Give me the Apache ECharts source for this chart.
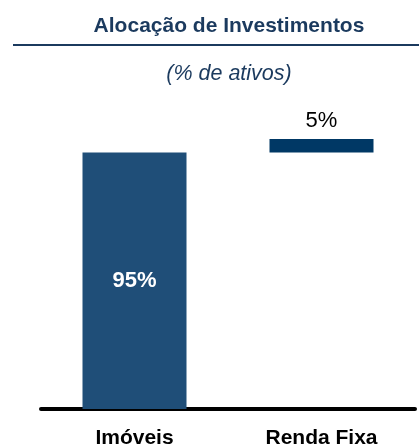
<!DOCTYPE html>
<html>
<head>
<meta charset="utf-8">
<script src="https://cdn.jsdelivr.net/npm/echarts@6/dist/echarts.min.js"></script>
<style>
  html, body { margin: 0; padding: 0; background: #fff; }
  #chart { width: 419px; height: 445px; }
</style>
</head>
<body>
<div id="chart"></div>
<script>
// data
const categories = ["Imóveis", "Renda Fixa"];
const shares = [95, 5];
const barColors = ["#1F4E78", "#003865"];

// waterfall offsets: each bar starts where the previous ones ended
const offsets = shares.map((_, i) => shares.slice(0, i).reduce((a, b) => a + b, 0));

const FONT = "Liberation Sans, Arial, sans-serif";
const NAVY = "#1B3A5E";

const chart = echarts.init(document.getElementById("chart"));
chart.setOption({
  animation: false,
  textStyle: { fontFamily: FONT },
  title: [
    {
      text: "Alocação de Investimentos",
      left: 224, top: 11, textAlign: "center",
      textStyle: { fontFamily: FONT, fontSize: 21, fontWeight: "bold", color: NAVY },
    },
    {
      text: "(% de ativos)",
      left: 224, top: 58, textAlign: "center",
      textStyle: { fontFamily: FONT, fontSize: 21.5, fontStyle: "italic", fontWeight: "normal", color: NAVY },
    },
  ],
  graphic: [
    {
      type: "line",
      shape: { x1: 13, y1: 45, x2: 419, y2: 45 },
      style: { stroke: NAVY, lineWidth: 2 },
    },
  ],
  grid: { left: 41, right: 4, top: 139, bottom: 36, outerBoundsMode: "none", containLabel: false },
  xAxis: {
    type: "category",
    data: categories,
    axisTick: { show: false },
    axisLine: { lineStyle: { color: "#000", width: 4 } },
    axisLabel: {
      margin: 19,
      fontFamily: FONT, fontSize: 21, fontWeight: "bold", color: "#000",
    },
  },
  yAxis: {
    type: "value", min: 0, max: 100,
    show: false,
    splitLine: { show: false },
  },
  series: [
    {
      type: "bar",
      stack: "w",
      data: offsets,
      itemStyle: { color: "transparent" },
      barWidth: 104,
      silent: true,
    },
    {
      type: "bar",
      stack: "w",
      barWidth: 104,
      data: shares.map((v, i) => ({
        value: v,
        itemStyle: { color: barColors[i] },
        label: i === 0
          ? { show: true, position: "inside", color: "#fff", fontWeight: "bold", fontSize: 22, fontFamily: FONT, formatter: "{c}%" }
          : { show: true, position: "top", distance: 7, color: "#000", fontSize: 22, fontFamily: FONT, formatter: "{c}%" },
      })),
    },
  ],
});
</script>
</body>
</html>
